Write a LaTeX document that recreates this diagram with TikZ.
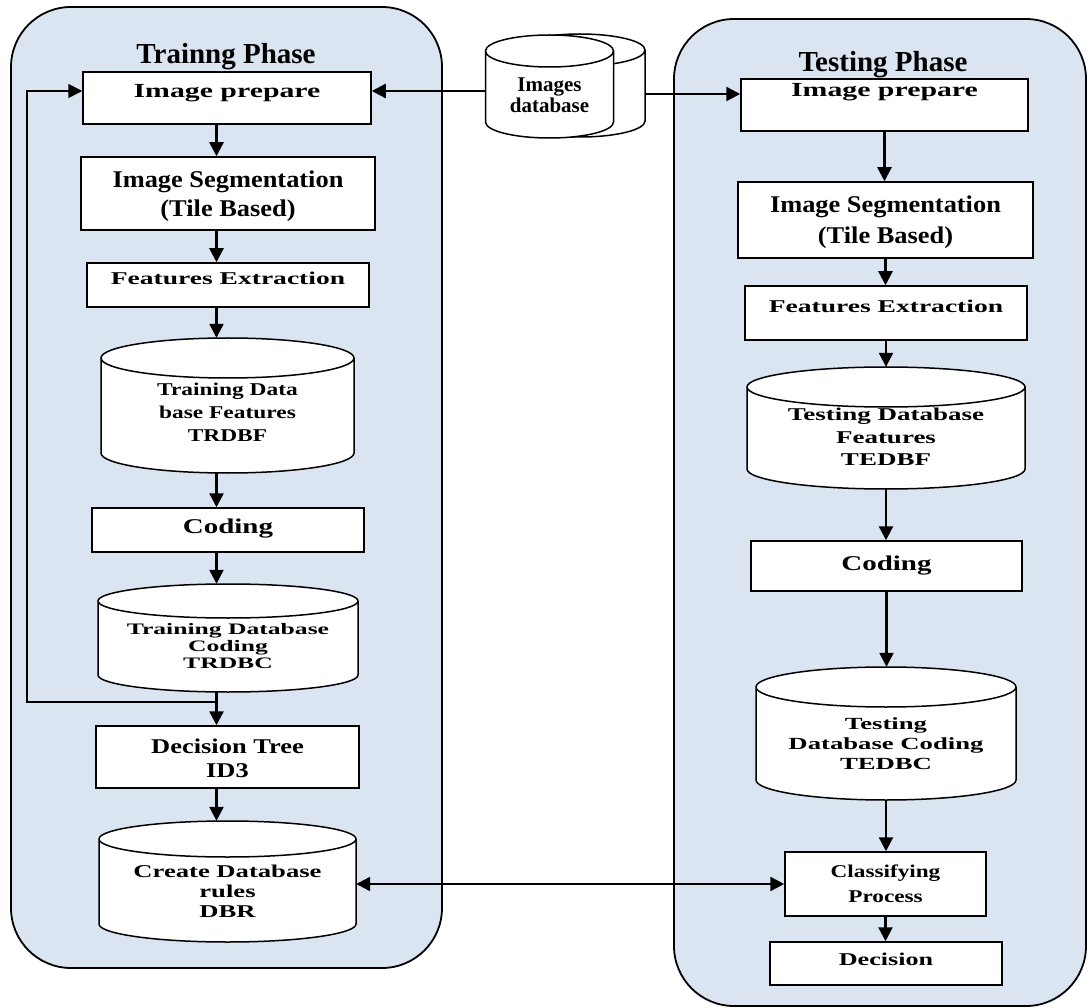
\documentclass[tikz,border=0pt]{standalone}
\usepackage{fontspec}
\setmainfont{Liberation Serif}
\usetikzlibrary{arrows.meta}

\definecolor{phasefill}{RGB}{219,229,241}
\newcommand{\fnt}[3]{\fontsize{#1}{#2}\selectfont\bfseries\addfontfeatures{FakeStretch=#3}}
\newcommand{\up}[1]{\rule{0pt}{#1pt}}
% drum outline: cx, top, bottom, half width, ry
\newcommand{\drumpath}[5]{%
  \draw[drumline] (#1-#4,-#2-#5) -- (#1-#4,-#3+#5)
    arc[start angle=180,end angle=360,x radius=#4,y radius=#5]
    -- (#1+#4,-#2-#5)
    arc[start angle=0,end angle=180,x radius=#4,y radius=#5]
    arc[start angle=180,end angle=360,x radius=#4,y radius=#5];}
% drum with text: options, name, cx, top, bottom, half width, ry, text
\newcommand{\drum}[8]{%
  \drumpath{#3}{#4}{#5}{#6}{#7}
  \node[drumtext,#1,minimum width=2*#6,minimum height=#5-#4] (#2) at (#3,-#4/2-#5/2) {#8};}

\begin{document}
\begin{tikzpicture}[x=1pt,y=1pt,
  phase/.style={draw,line width=1.8pt,fill=phasefill,rounded corners=60pt},
  box/.style={draw,line width=1.5pt,fill=white,inner sep=0pt,align=center},
  drumline/.style={draw,line width=1.5pt,fill=white},
  drumtext/.style={inner sep=0pt,align=center},
  arr/.style={-{Triangle[length=14pt,width=14pt]},line width=2.4pt},
  twoway/.style={{Triangle[length=14pt,width=14pt]}-{Triangle[length=14pt,width=14pt]},line width=2.4pt},
  back/.style={-{Triangle[length=14pt,width=14pt]},line width=1.7pt},
  title/.style={font=\fontsize{29}{34}\selectfont\bfseries,anchor=base}]
\useasboundingbox (0,0) rectangle (1088,-1008);

% the two phases
\draw[phase] (11,-7) rectangle (442,-968);
\draw[phase] (674,-19) rectangle (1086,-1006);
\node[title] (trainT) at (226,-64) {Trainng Phase};
\node[title] (testT) at (883,-72) {Testing Phase};

% images database
\drumpath{580}{34}{137}{65}{16}
\drum{font=\fnt{21}{21}{1.0}}{imgdb}{549.5}{35}{138}{64}{16}{\up{32}Images\\database}

% training column
\node[box,font=\fnt{20}{24}{1.49},minimum width=288,minimum height=52,text height=7pt,text depth=7pt] (prepL) at (227,-98) {Image prepare};
\node[box,font=\fnt{24}{29}{1.1},minimum width=294,minimum height=73] (segL) at (228,-193.5) {\up{23}Image Segmentation\\(Tile Based)};
\node[box,font=\fnt{18}{22}{1.53},minimum width=282,minimum height=44,text height=6pt,text depth=6pt] (featL) at (228,-285) {Features Extraction};
\drum{font=\fnt{18}{23}{1.3}}{trdbf}{227.5}{338}{473}{126.5}{20}{\up{27}Training Data\\base Features\\TRDBF}
\node[box,font=\fnt{21}{25}{1.38},minimum width=272,minimum height=44,text height=9pt,text depth=3pt] (codL) at (228,-530) {Coding};
\drum{font=\fnt{16}{17}{1.6}}{trdbc}{228}{584}{692}{130}{17}{\up{28}Training Database\\Coding\\TRDBC}
\node[box,font=\fnt{21}{24}{1.26},minimum width=263,minimum height=62] (decL) at (227.5,-757) {\up{18}Decision Tree\\ID3};
\drum{font=\fnt{18}{20}{1.48}}{dbr}{227.5}{821}{942}{128.5}{18}{\up{33}Create Database\\rules\\DBR}

% testing column
\node[box,font=\fnt{20}{24}{1.49},minimum width=287,minimum height=52,text height=4pt,text depth=20pt] (prepR) at (884.5,-105) {Image prepare};
\node[box,font=\fnt{24}{31}{1.1},minimum width=295,minimum height=76] (segR) at (885.5,-220) {\up{22}Image Segmentation\\(Tile Based)};
\node[box,font=\fnt{18}{22}{1.53},minimum width=282,minimum height=54,text height=6pt,text depth=6pt] (featR) at (886,-313) {Features Extraction};
\drum{font=\fnt{18}{22.5}{1.5}}{tedbf}{886}{367}{489}{139}{20}{\up{31}Testing Database\\Features\\TEDBF}
\node[box,font=\fnt{21}{25}{1.38},minimum width=271,minimum height=50,text height=10pt,text depth=2pt] (codR) at (886.5,-566) {Coding};
\drum{font=\fnt{17}{20}{1.57}}{tedbc}{886}{667}{800}{130}{20}{\up{33}Testing\\Database Coding\\TEDBC}
\node[box,font=\fnt{18}{25}{1.29},minimum width=201,minimum height=64] (cls) at (885.5,-884) {Classifying\\Process};
\node[box,font=\fnt{18}{22}{1.45},minimum width=232,minimum height=43,text height=8pt,text depth=5pt] (decR) at (886,-963.5) {Decision};

% flow
\coordinate (axL) at (216.5,0);
\foreach \a/\b in {prepL/segL,segL/featL,featL/trdbf,trdbf/codL,codL/trdbc,trdbc/decL,decL/dbr}
  \draw[arr] (\a.south -| axL) -- (\b.north -| axL);
\foreach \a/\b in {prepR/segR,segR/featR,featR/tedbf,tedbf/codR,codR/tedbc,tedbc/cls,cls/decR}
  \draw[arr] (\a.south) -- (\a.south |- \b.north);

\draw[arr] ([yshift=-4.5pt]imgdb.west) -- ([yshift=-4.5pt]imgdb.west -| prepL.east);
\coordinate (dbR) at (645,-94);
\draw[arr] (dbR) -- (dbR -| prepR.west);
\coordinate (fbk) at (216.5,-702);
\draw[back] (fbk) -- ++(-189.5,0) |- ([yshift=7pt]prepL.west);
\draw[twoway] (dbr.east |- cls.west) -- (cls.west);

\end{tikzpicture}
\end{document}
